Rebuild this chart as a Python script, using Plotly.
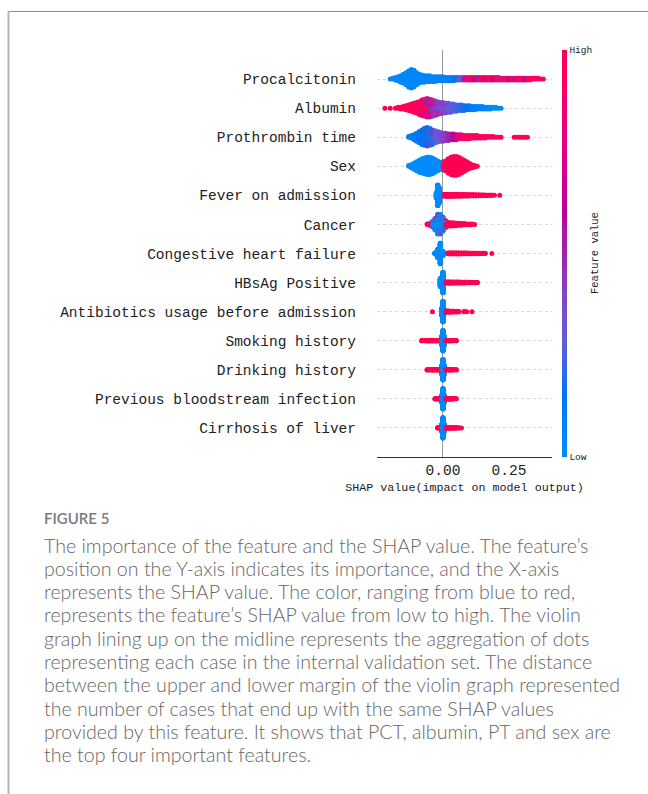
import math
import plotly.graph_objects as go

# ---------------------------------------------------------------------------
# Features, bottom row first (row index 0 = lowest importance)
# ---------------------------------------------------------------------------
features = [
    "Cirrhosis of liver",
    "Previous bloodstream infection",
    "Drinking history",
    "Smoking history",
    "Antibiotics usage before admission",
    "HBsAg Positive",
    "Congestive heart failure",
    "Cancer",
    "Fever on admission",
    "Sex",
    "Prothrombin time",
    "Albumin",
    "Procalcitonin",
]

# Each list: (SHAP value bin, number of cases in the bin, normalised feature value 0-1)
procalcitonin = [
    (-0.20, 1, 0.03), (-0.19, 2, 0.03), (-0.18, 4, 0.03), (-0.17, 6, 0.02), (-0.16, 9, 0.02),
    (-0.15, 12, 0.02), (-0.14, 16, 0.02), (-0.13, 21, 0.02), (-0.12, 24, 0.02), (-0.11, 22, 0.03),
    (-0.10, 16, 0.03), (-0.09, 12, 0.03), (-0.08, 10, 0.04), (-0.07, 9, 0.04), (-0.06, 8, 0.04),
    (-0.05, 8, 0.05), (-0.04, 7, 0.05), (-0.03, 7, 0.05), (-0.02, 6, 0.06), (-0.01, 6, 0.06),
    (0.00, 6, 0.07), (0.01, 5, 0.08), (0.02, 5, 0.08), (0.03, 5, 0.10), (0.04, 5, 0.12),
    (0.05, 4, 0.15), (0.06, 4, 0.25), (0.07, 4, 0.35), (0.08, 4, 0.55), (0.09, 4, 0.85),
    (0.10, 4, 0.95), (0.11, 4, 0.90), (0.12, 2, 0.60), (0.12, 2, 0.95), (0.13, 4, 0.50),
    (0.14, 4, 0.90), (0.15, 4, 0.95), (0.16, 2, 0.55), (0.16, 2, 0.95), (0.17, 4, 0.90),
    (0.18, 4, 0.95), (0.19, 2, 0.60), (0.19, 2, 0.95), (0.20, 4, 0.95), (0.21, 4, 0.90),
    (0.22, 3, 0.50), (0.23, 3, 0.95), (0.24, 3, 0.90), (0.25, 3, 0.60), (0.26, 3, 0.95),
    (0.27, 3, 0.55), (0.28, 3, 0.95), (0.29, 3, 0.90), (0.30, 3, 0.95), (0.31, 3, 0.60),
    (0.32, 3, 0.95), (0.33, 3, 0.90), (0.34, 2, 0.95), (0.35, 2, 0.95), (0.36, 2, 0.90),
    (0.37, 1, 0.95), (0.38, 1, 0.95),
]

albumin = [
    (-0.22, 1, 1.00), (-0.20, 1, 1.00), (-0.18, 1, 1.00), (-0.17, 2, 1.00), (-0.16, 3, 1.00),
    (-0.15, 4, 0.98), (-0.14, 6, 0.98), (-0.13, 8, 0.97), (-0.12, 10, 0.97), (-0.11, 12, 0.95),
    (-0.10, 14, 0.95), (-0.09, 12, 0.97), (-0.09, 5, 0.60), (-0.08, 13, 0.95), (-0.08, 7, 0.55),
    (-0.07, 13, 0.95), (-0.07, 9, 0.50), (-0.06, 12, 0.90), (-0.06, 12, 0.50), (-0.05, 10, 0.90),
    (-0.05, 13, 0.50), (-0.04, 8, 0.85), (-0.04, 13, 0.45), (-0.03, 6, 0.85), (-0.03, 13, 0.40),
    (-0.02, 4, 0.80), (-0.02, 13, 0.40), (-0.01, 3, 0.80), (-0.01, 12, 0.35), (0.00, 2, 0.75),
    (0.00, 12, 0.35), (0.01, 13, 0.35), (0.02, 12, 0.30), (0.03, 11, 0.30), (0.04, 10, 0.28),
    (0.05, 9, 0.25), (0.06, 8, 0.22), (0.07, 8, 0.20), (0.08, 7, 0.18), (0.09, 6, 0.15),
    (0.10, 6, 0.12), (0.11, 5, 0.10), (0.12, 5, 0.08), (0.13, 4, 0.06), (0.14, 4, 0.05),
    (0.15, 4, 0.05), (0.16, 3, 0.04), (0.17, 3, 0.04), (0.18, 3, 0.03), (0.19, 2, 0.03),
    (0.20, 2, 0.02), (0.21, 1, 0.02), (0.22, 1, 0.02),
]

prothrombin_time = [
    (-0.13, 2, 0.10), (-0.12, 4, 0.10), (-0.11, 7, 0.12), (-0.10, 11, 0.12), (-0.09, 15, 0.15),
    (-0.08, 18, 0.15), (-0.08, 1, 0.95), (-0.07, 17, 0.15), (-0.07, 5, 0.40), (-0.06, 18, 0.15),
    (-0.06, 6, 0.45), (-0.05, 16, 0.18), (-0.05, 6, 0.45), (-0.04, 13, 0.20), (-0.04, 5, 0.50),
    (-0.04, 1, 0.95), (-0.03, 16, 0.28), (-0.02, 14, 0.32), (-0.01, 12, 0.35), (0.00, 11, 0.40),
    (0.01, 10, 0.45), (0.02, 9, 0.50), (0.03, 8, 0.55), (0.04, 8, 0.60), (0.05, 7, 0.70),
    (0.06, 6, 0.80), (0.07, 6, 0.85), (0.08, 5, 0.90), (0.09, 5, 0.95), (0.10, 5, 0.95),
    (0.11, 4, 0.95), (0.12, 4, 0.95), (0.13, 4, 0.95), (0.14, 3, 0.95), (0.15, 3, 0.95),
    (0.16, 3, 0.95), (0.17, 2, 0.95), (0.18, 2, 0.95), (0.19, 2, 0.95), (0.20, 1, 0.95),
    (0.21, 1, 0.95), (0.22, 1, 0.95), (0.27, 1, 0.98), (0.28, 1, 0.98), (0.29, 1, 0.98),
    (0.30, 1, 0.98), (0.31, 1, 0.98), (0.32, 1, 0.98),
]

sex = [
    (-0.13, 2, 0.0), (-0.12, 5, 0.0), (-0.11, 9, 0.0), (-0.10, 13, 0.0), (-0.09, 17, 0.0),
    (-0.08, 20, 0.0), (-0.07, 22, 0.0), (-0.06, 24, 0.0), (-0.05, 24, 0.0), (-0.04, 22, 0.0),
    (-0.03, 18, 0.0), (-0.02, 14, 0.0), (-0.01, 10, 0.0), (0.00, 4, 0.0),
    (0.00, 8, 1.0), (0.01, 14, 1.0), (0.02, 20, 1.0), (0.03, 24, 1.0), (0.04, 26, 1.0),
    (0.05, 26, 1.0), (0.06, 24, 1.0), (0.07, 20, 1.0), (0.08, 16, 1.0), (0.09, 12, 1.0),
    (0.10, 8, 1.0), (0.11, 5, 1.0), (0.12, 3, 1.0), (0.13, 1, 1.0),
]

fever_on_admission = [
    (-0.025, 40, 0.0), (-0.02, 150, 0.0), (-0.015, 110, 0.0), (-0.01, 30, 0.0),
    (0.005, 12, 1.0), (0.015, 14, 1.0), (0.025, 14, 1.0), (0.035, 13, 1.0), (0.045, 12, 1.0),
    (0.055, 12, 1.0), (0.065, 11, 1.0), (0.075, 10, 1.0), (0.085, 10, 1.0), (0.095, 9, 1.0),
    (0.105, 8, 1.0), (0.115, 8, 1.0), (0.125, 7, 1.0), (0.135, 6, 1.0), (0.145, 5, 1.0),
    (0.155, 4, 1.0), (0.165, 3, 1.0), (0.175, 2, 1.0), (0.185, 2, 1.0), (0.195, 1, 1.0),
    (0.215, 1, 1.0),
]

cancer = [
    (-0.06, 2, 1.0), (-0.05, 3, 1.0), (-0.05, 3, 0.0), (-0.04, 10, 0.0), (-0.04, 4, 1.0),
    (-0.03, 25, 0.0), (-0.03, 5, 1.0), (-0.02, 44, 0.0), (-0.02, 6, 1.0), (-0.01, 42, 0.0),
    (-0.01, 8, 1.0), (0.00, 28, 0.0), (0.00, 8, 1.0), (0.01, 8, 0.0), (0.01, 10, 1.0),
    (0.02, 10, 1.0), (0.03, 9, 1.0), (0.04, 8, 1.0), (0.05, 7, 1.0), (0.06, 6, 1.0),
    (0.07, 5, 1.0), (0.08, 4, 1.0), (0.09, 3, 1.0), (0.10, 3, 1.0), (0.11, 2, 1.0),
    (0.12, 1, 1.0),
]

congestive_heart_failure = [
    (-0.03, 10, 0.0), (-0.02, 60, 0.0), (-0.01, 150, 0.0), (0.00, 30, 0.0),
    (0.02, 6, 1.0), (0.03, 8, 1.0), (0.04, 8, 1.0), (0.05, 8, 1.0), (0.06, 7, 1.0),
    (0.07, 7, 1.0), (0.08, 6, 1.0), (0.09, 6, 1.0), (0.10, 5, 1.0), (0.11, 5, 1.0),
    (0.12, 4, 1.0), (0.13, 3, 1.0), (0.14, 3, 1.0), (0.15, 2, 1.0), (0.16, 2, 1.0),
    (0.185, 1, 1.0),
]

hbsag_positive = [
    (-0.01, 60, 0.0), (0.00, 150, 0.0),
    (0.01, 10, 1.0), (0.02, 10, 1.0), (0.03, 9, 1.0), (0.04, 9, 1.0), (0.05, 8, 1.0),
    (0.06, 8, 1.0), (0.07, 7, 1.0), (0.08, 7, 1.0), (0.09, 6, 1.0), (0.10, 5, 1.0),
    (0.11, 4, 1.0), (0.12, 3, 1.0), (0.13, 2, 1.0),
]

antibiotics_before_admission = [
    (-0.04, 1, 1.0),
    (-0.005, 50, 0.0), (0.00, 150, 0.0), (0.005, 30, 0.0),
    (0.01, 8, 1.0), (0.02, 8, 1.0), (0.03, 7, 1.0), (0.04, 6, 1.0), (0.05, 5, 1.0),
    (0.06, 3, 1.0), (0.08, 2, 1.0), (0.09, 1, 1.0), (0.11, 1, 1.0),
]

smoking_history = [
    (-0.08, 3, 1.0), (-0.07, 4, 1.0), (-0.06, 5, 1.0), (-0.05, 5, 1.0), (-0.04, 5, 1.0),
    (-0.03, 5, 1.0), (-0.02, 5, 1.0), (-0.01, 4, 1.0),
    (-0.005, 60, 0.0), (0.00, 150, 0.0), (0.005, 60, 0.0),
    (0.01, 4, 1.0), (0.02, 5, 1.0), (0.03, 5, 1.0), (0.04, 4, 1.0), (0.05, 3, 1.0),
]

drinking_history = [
    (-0.06, 3, 1.0), (-0.05, 4, 1.0), (-0.04, 5, 1.0), (-0.03, 5, 1.0), (-0.02, 5, 1.0),
    (-0.01, 5, 1.0),
    (-0.005, 60, 0.0), (0.00, 150, 0.0), (0.005, 60, 0.0),
    (0.01, 5, 1.0), (0.02, 5, 1.0), (0.03, 5, 1.0), (0.04, 4, 1.0), (0.05, 3, 1.0),
]

previous_bloodstream_infection = [
    (-0.03, 3, 1.0), (-0.02, 5, 1.0), (-0.01, 6, 1.0),
    (-0.005, 50, 0.0), (0.00, 150, 0.0), (0.005, 50, 0.0),
    (0.01, 6, 1.0), (0.02, 6, 1.0), (0.03, 5, 1.0), (0.04, 4, 1.0), (0.05, 2, 1.0),
]

cirrhosis_of_liver = [
    (-0.02, 4, 1.0), (-0.01, 6, 1.0),
    (-0.005, 50, 0.0), (0.00, 150, 0.0), (0.005, 50, 0.0),
    (0.01, 6, 1.0), (0.02, 6, 1.0), (0.03, 6, 1.0), (0.04, 5, 1.0), (0.05, 4, 1.0),
    (0.06, 2, 1.0), (0.07, 1, 1.0),
]

rows = [
    cirrhosis_of_liver, previous_bloodstream_infection, drinking_history, smoking_history,
    antibiotics_before_admission, hbsag_positive, congestive_heart_failure, cancer,
    fever_on_admission, sex, prothrombin_time, albumin, procalcitonin,
]

x_ticks = [0.0, 0.25]
x_tick_text = ["0.00", "0.25"]

caption_head = "FIGURE 5"
caption_lines = [
    "The importance of the feature and the SHAP value. The feature\u2019s",
    "position on the Y-axis indicates its importance, and the X-axis",
    "represents the SHAP value. The color, ranging from blue to red,",
    "represents the feature\u2019s SHAP value from low to high. The violin",
    "graph lining up on the midline represents the aggregation of dots",
    "representing each case in the internal validation set. The distance",
    "between the upper and lower margin of the violin graph represented",
    "the number of cases that end up with the same SHAP values",
    "provided by this feature. It shows that PCT, albumin, PT and sex are",
    "the top four important features.",
]

# ---------------------------------------------------------------------------
# Blue -> red colour map built in LCh space (perceptual ramp)
# ---------------------------------------------------------------------------
def lch_to_hex(l, c, h):
    a, b = c * math.cos(h), c * math.sin(h)
    fy = (l + 16) / 116
    fx, fz = fy + a / 500, fy - b / 200

    def finv(t):
        return t ** 3 if t > 6 / 29 else 3 * (6 / 29) ** 2 * (t - 4 / 29)

    X, Y, Z = 0.95047 * finv(fx), finv(fy), 1.08883 * finv(fz)
    lin = [3.2406 * X - 1.5372 * Y - 0.4986 * Z,
           -0.9689 * X + 1.8758 * Y + 0.0415 * Z,
           0.0557 * X - 0.2040 * Y + 1.0570 * Z]
    out = []
    for v in lin:
        v = 1.055 * v ** (1 / 2.4) - 0.055 if v > 0.0031308 else 12.92 * v
        out.append(int(round(min(max(v, 0), 1) * 255)))
    return "#%02x%02x%02x" % tuple(out)


def red_blue_scale(steps=21):
    blue_lch, red_lch, l_mid = (54.0, 70.0, 4.6588), (54.0, 90.0, 0.35470565 + 2 * math.pi), 40.0
    scale = []
    for i in range(steps):
        t = i / (steps - 1)
        l = blue_lch[0] + (l_mid - blue_lch[0]) * (2 * t) if t <= 0.5 else l_mid + (red_lch[0] - l_mid) * (2 * t - 1)
        c = blue_lch[1] + (red_lch[1] - blue_lch[1]) * t
        h = blue_lch[2] + (red_lch[2] - blue_lch[2]) * t
        scale.append([t, lch_to_hex(l, c, h)])
    scale[0][1] = "#008bfc"
    scale[-1][1] = "#ff0052"
    return scale


# ---------------------------------------------------------------------------
# Beeswarm layout: dots sharing a SHAP bin are stacked alternately up/down
# ---------------------------------------------------------------------------
ROW_HEIGHT = 0.4


def swarm(entries, row):
    stacks = {}
    for shap_val, n, val in entries:
        stacks.setdefault(shap_val, []).append((n, val))
    pts = []
    for shap_val, parts in stacks.items():
        seq = []
        for n, val in parts:
            seq += [((j + 0.5) / n, val) for j in range(n)]
        seq.sort(key=lambda t: t[0])
        for layer, (_, val) in enumerate(seq):
            off = math.ceil(layer / 2) * ((layer % 2) * 2 - 1)
            pts.append((shap_val, off, val))
    top = max(p[1] for p in pts)
    k = 0.9 * ROW_HEIGHT / (top + 1)
    pts.sort(key=lambda p: -abs(p[1]))
    return ([p[0] for p in pts], [row + p[1] * k for p in pts], [p[2] for p in pts])


# ---------------------------------------------------------------------------
# Geometry (pixels) of the plotting area in the 648 x 794 page
# ---------------------------------------------------------------------------
W, H = 648, 794
PL, PR, PT, PB = 377, 552, 50, 457


def px(xp):
    return (xp - PL) / (PR - PL)


def py(yp):
    return (PB - yp) / (PB - PT)


MONO = "Liberation Mono, DejaVu Sans Mono, monospace"
SANS = "Lato, Open Sans, sans-serif"

fig = go.Figure()
for i, entries in enumerate(rows):
    xs, ys, vs = swarm(entries, i)
    fig.add_trace(go.Scatter(
        x=xs, y=ys, mode="markers",
        marker=dict(size=5, color=vs, coloraxis="coloraxis", line=dict(width=0)),
        hoverinfo="skip", showlegend=False,
    ))

fig.update_layout(
    width=W, height=H,
    margin=dict(l=PL, r=W - PR, t=PT, b=H - PB, pad=0),
    paper_bgcolor="white", plot_bgcolor="white",
    coloraxis=dict(
        cmin=0, cmax=1, colorscale=red_blue_scale(),
        colorbar=dict(
            thickness=5, lenmode="pixels", len=PB - PT, y=0.5, yanchor="middle",
            x=px(562), xanchor="left", xpad=0, ypad=0, outlinewidth=0,
            tickvals=[0, 1], ticktext=["Low", "High"], ticks="",
            tickfont=dict(family=MONO, size=9.5, color="#222"),
        ),
    ),
    xaxis=dict(
        range=[-0.25, 0.413], showgrid=False,
        zeroline=True, zerolinecolor="#999999", zerolinewidth=1,
        showline=True, linecolor="#333333", linewidth=1,
        ticks="", tickvals=x_ticks, ticktext=x_tick_text,
        tickfont=dict(family=MONO, size=14.5, color="#222"),
        title=dict(text="SHAP value(impact on model output)", standoff=4,
                   font=dict(family=MONO, size=11.7, color="#222")),
        automargin=False,
    ),
    yaxis=dict(
        range=[-1, len(features)], tickvals=list(range(len(features))), ticktext=features,
        showgrid=True, gridcolor="#d9d9d9", griddash="dot", gridwidth=1,
        zeroline=False, showline=False, ticks="", ticklabelstandoff=20,
        tickfont=dict(family=MONO, size=14.5, color="#222"),
        automargin=False,
    ),
)

# Colour-bar caption, rotated alongside the bar
fig.add_annotation(text="Feature value", xref="paper", yref="paper", x=px(595), y=py(253),
                   xanchor="center", yanchor="middle", textangle=-90, showarrow=False,
                   font=dict(family=MONO, size=10.5, color="#222"))

# Frame around the figure panel
fig.add_shape(type="line", xref="paper", yref="paper", x0=px(8), x1=px(W), y0=py(11.5), y1=py(11.5),
              line=dict(color="#8f8f8f", width=1))
fig.add_shape(type="line", xref="paper", yref="paper", x0=px(8.5), x1=px(8.5), y0=py(11), y1=py(H),
              line=dict(color="#b5b5b5", width=2))

# Caption
fig.add_annotation(text=caption_head, xref="paper", yref="paper", x=px(42), y=py(518),
                   xanchor="left", yanchor="middle", showarrow=False,
                   font=dict(family=SANS, size=15, color="#7a7a7a", weight=600))
for k, line in enumerate(caption_lines):
    fig.add_annotation(text=line, xref="paper", yref="paper", x=px(42), y=py(545 + 23.3 * k),
                       xanchor="left", yanchor="middle", showarrow=False,
                       font=dict(family=SANS, size=19.6, color="#666666", weight=300))

fig.write_html("out.html")
